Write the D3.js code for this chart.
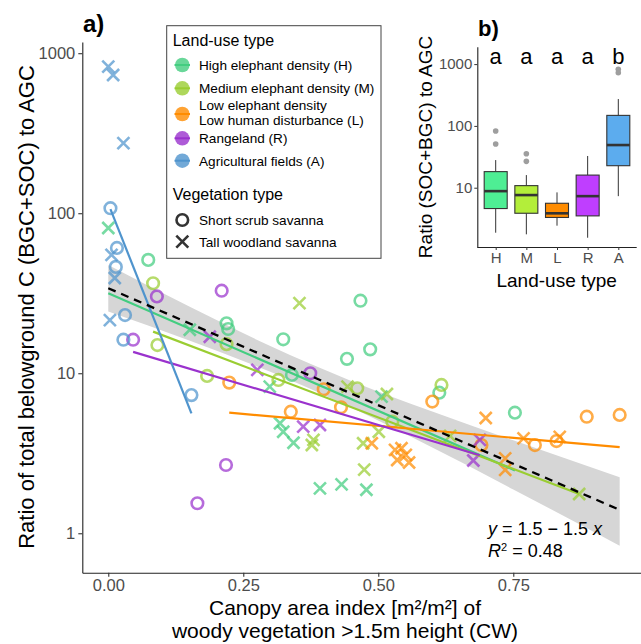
<!DOCTYPE html>
<html lang="en">
<head>
<meta charset="UTF-8">
<title>Belowground to aboveground carbon ratio</title>
<script src="https://cdn.jsdelivr.net/npm/d3@7"></script>
<style>
  body { margin: 0; background: #fff; }
  text { font-family: "Liberation Sans", Arial, sans-serif; }
</style>
</head>
<body>
<div id="container"></div>
<script>
// ---- data ----
// each point: [canopy area index CW, ratio, vegetation type (S = short scrub, T = tall woodland)]
var pointsH = [[0.00, 80.9, "T"], [0.074, 51.1, "S"], [0.151, 18.7, "T"], [0.219, 20.5, "S"], [0.222, 18.9, "S"],
  [0.324, 16.3, "S"], [0.467, 28.4, "S"], [0.442, 12.3, "S"], [0.485, 14.1, "S"], [0.299, 8.25, "T"],
  [0.340, 9.76, "S"], [0.318, 4.87, "T"], [0.324, 4.31, "T"], [0.343, 3.68, "T"], [0.392, 1.91, "T"],
  [0.432, 2.02, "T"], [0.478, 1.87, "T"], [0.506, 7.14, "T"], [0.613, 7.56, "S"], [0.753, 5.67, "S"]];
var pointsM = [[0.083, 36.5, "S"], [0.354, 27.4, "T"], [0.091, 15.0, "S"], [0.219, 15.2, "S"], [0.183, 9.62, "S"],
  [0.315, 9.08, "S"], [0.380, 3.83, "T"], [0.377, 3.56, "T"], [0.461, 8.06, "S"], [0.443, 8.25, "T"],
  [0.516, 7.42, "T"], [0.472, 3.65, "T"], [0.474, 2.50, "T"], [0.501, 4.31, "T"], [0.526, 4.98, "S"],
  [0.617, 8.45, "S"], [0.633, 4.06, "T"], [0.872, 1.76, "T"]];
var pointsL = [[0.224, 8.74, "S"], [0.338, 5.75, "S"], [0.399, 7.94, "S"], [0.431, 6.13, "S"], [0.488, 3.65, "T"],
  [0.531, 3.32, "T"], [0.543, 3.40, "T"], [0.551, 3.09, "T"], [0.535, 2.87, "T"], [0.557, 2.77, "T"],
  [0.600, 6.65, "S"], [0.699, 5.25, "T"], [0.691, 3.56, "S"], [0.735, 2.94, "T"], [0.735, 2.49, "T"],
  [0.769, 3.92, "T"], [0.790, 3.56, "S"], [0.836, 4.00, "T"], [0.830, 3.77, "S"], [0.886, 5.35, "S"],
  [0.947, 5.49, "S"]];
var pointsR = [[0.046, 16.2, "S"], [0.090, 30.2, "S"], [0.210, 32.8, "S"], [0.188, 16.9, "T"], [0.276, 10.5, "T"],
  [0.374, 10.0, "S"], [0.361, 4.64, "T"], [0.392, 4.75, "T"], [0.218, 2.67, "S"], [0.165, 1.54, "S"],
  [0.688, 3.83, "T"], [0.676, 2.85, "T"]];
var pointsA = [[0.000, 824, "T"], [0.009, 731, "T"], [0.028, 274, "T"], [0.004, 107.5, "S"], [0.016, 60.7, "S"],
  [0.006, 54.9, "T"], [0.014, 46.2, "S"], [0.012, 39.4, "T"], [0.003, 21.5, "T"], [0.031, 23.1, "S"],
  [0.028, 16.2, "S"], [0.154, 7.3, "S"]];

// group fit lines: [x start, y start, x end, y end]
var fitH = [0.000, 31.6, 0.753, 2.47];
var fitM = [0.083, 18.2, 0.872, 1.76];
var fitL = [0.224, 5.67, 0.947, 3.45];
var fitR = [0.046, 13.6, 0.688, 3.07];
var fitA = [0.004, 106, 0.154, 5.62];
var fitAll = [0.000, 34.0, 0.947, 1.40];

// confidence band of the overall fit
var bandX = [0, 0.15, 0.30, 0.45, 0.60, 0.75, 0.947];
var bandLo = [24.3, 16.0, 10.2, 6.10, 3.43, 1.88, 0.835];
var bandHi = [47.5, 26.1, 14.8, 8.96, 5.76, 3.81, 2.24];

// inset boxplot stats
var landUse = ["H", "M", "L", "R", "A"];
var boxLow = [1.87, 1.76, 2.43, 1.55, 7.3];
var boxQ1 = [4.6, 3.86, 3.3, 3.5, 22.7];
var boxMed = [8.8, 7.6, 3.85, 7.3, 49];
var boxQ3 = [18.2, 10.8, 5.6, 16, 148];
var boxHigh = [28, 16, 8.4, 32.6, 272];
var boxOut = [[51, 82.6], [26.7, 35.5], [], [], [724, 824]];
var sigLetters = ["a", "a", "a", "a", "b"];

var landUseLabels = ["High elephant density (H)", "Medium elephant density (M)",
  ["Low elephant density", "Low human disturbance (L)"], "Rangeland (R)", "Agricultural fields (A)"];

// colours
var pointColor = {H: "#43CD80", M: "#9ACD32", L: "#FF8C00", R: "#9A32CD", A: "#4F94CD"};
var boxColor = {H: "#4EEE94", M: "#B3EE3A", L: "#FF8C00", R: "#BF3EFF", A: "#5CACEE"};

var groups = [
  {key: "H", pts: pointsH, fit: fitH},
  {key: "M", pts: pointsM, fit: fitM},
  {key: "L", pts: pointsL, fit: fitL},
  {key: "R", pts: pointsR, fit: fitR},
  {key: "A", pts: pointsA, fit: fitA}
];

var svg = d3.select("#container").append("svg")
  .attr("width", 641)
  .attr("height", 644);

// ---- main panel a) ----
var x = d3.scaleLinear().domain([-0.0481, 0.9865]).range([82.3, 641]);
var y = d3.scaleLog().domain([0.567, 1175]).range([572.7, 42]);

// confidence band
var bandData = bandX.map((d, i) => ({x: d, lo: bandLo[i], hi: bandHi[i]}));
svg.append("path")
  .datum(bandData)
  .attr("fill", "#d6d6d6")
  .attr("d", d3.area().x(d => x(d.x)).y0(d => y(d.lo)).y1(d => y(d.hi)).curve(d3.curveMonotoneX));

// points
var xMark = "M-6,-6L6,6M-6,6L6,-6";
groups.forEach(function (g) {
  var gg = svg.append("g");
  gg.selectAll("circle")
    .data(g.pts.filter(d => d[2] == "S"))
    .enter().append("circle")
    .attr("cx", d => x(d[0]))
    .attr("cy", d => y(d[1]))
    .attr("r", 5.8)
    .attr("fill", "none")
    .attr("stroke", pointColor[g.key])
    .attr("stroke-width", 2.6)
    .attr("stroke-opacity", 0.72);
  gg.selectAll("path")
    .data(g.pts.filter(d => d[2] == "T"))
    .enter().append("path")
    .attr("transform", d => "translate(" + x(d[0]) + "," + y(d[1]) + ")")
    .attr("d", xMark)
    .attr("fill", "none")
    .attr("stroke", pointColor[g.key])
    .attr("stroke-width", 2.6)
    .attr("stroke-opacity", 0.72);
});

// group fit lines
groups.forEach(function (g) {
  svg.append("line")
    .attr("x1", x(g.fit[0])).attr("y1", y(g.fit[1]))
    .attr("x2", x(g.fit[2])).attr("y2", y(g.fit[3]))
    .attr("stroke", pointColor[g.key])
    .attr("stroke-width", 2.2);
});

// overall fit
svg.append("line")
  .attr("x1", x(fitAll[0])).attr("y1", y(fitAll[1]))
  .attr("x2", x(fitAll[2])).attr("y2", y(fitAll[3]))
  .attr("stroke", "black")
  .attr("stroke-width", 2.3)
  .attr("stroke-dasharray", "8,6");

// axes
var xAxis = svg.append("g")
  .attr("transform", "translate(0,572.7)")
  .call(d3.axisBottom(x).tickValues([0, 0.25, 0.5, 0.75]).tickFormat(d3.format(".2f")).tickSize(4).tickSizeOuter(0).tickPadding(3));
var yAxis = svg.append("g")
  .attr("transform", "translate(82.3,0)")
  .call(d3.axisLeft(y).tickValues([1, 10, 100, 1000]).tickFormat(d3.format("d")).tickSize(4).tickSizeOuter(0).tickPadding(3));
[xAxis, yAxis].forEach(function (a) {
  a.select(".domain").attr("stroke", "#222").attr("stroke-width", 1.1);
  a.selectAll(".tick line").attr("stroke", "#333").attr("stroke-width", 1.1);
  a.selectAll(".tick text").attr("fill", "#4d4d4d").style("font-size", "16.5px")
    .style("font-family", "'Liberation Sans', Arial, sans-serif");
});

svg.append("text")
  .attr("x", 345).attr("y", 615)
  .style("text-anchor", "middle").style("font-size", "21px")
  .text("Canopy area index [m²/m²] of");
svg.append("text")
  .attr("x", 345).attr("y", 638)
  .style("text-anchor", "middle").style("font-size", "21px")
  .text("woody vegetation >1.5m height (CW)");

svg.append("text")
  .attr("transform", "translate(34,307) rotate(-90)")
  .style("text-anchor", "middle").style("font-size", "22px")
  .text("Ratio of total belowground C (BGC+SOC) to AGC");

svg.append("text")
  .attr("x", 83).attr("y", 32)
  .style("font-size", "24px").style("font-weight", "bold")
  .text("a)");

// equation
var eq1 = svg.append("text").attr("x", 488).attr("y", 535).style("font-size", "18px");
eq1.append("tspan").style("font-style", "italic").text("y");
eq1.append("tspan").text(" = 1.5 \u2212 1.5 ");
eq1.append("tspan").style("font-style", "italic").text("x");
var eq2 = svg.append("text").attr("x", 488).attr("y", 557).style("font-size", "18px");
eq2.append("tspan").style("font-style", "italic").text("R");
eq2.append("tspan").attr("dy", -6).style("font-size", "11px").text("2");
eq2.append("tspan").attr("dy", 6).text(" = 0.48");

// legend
var legend = svg.append("g");
legend.append("rect")
  .attr("x", 166.7).attr("y", 25.7).attr("width", 214.3).attr("height", 232.6)
  .attr("fill", "white").attr("stroke", "#444").attr("stroke-width", 1);
legend.append("text").attr("x", 172.7).attr("y", 46).style("font-size", "16px").text("Land-use type");
var keyY = [65, 88.3, 114, 138.3, 160.7];
var labY = [70, 92.7, 110, 142.7, 165.7];
landUse.forEach(function (k, i) {
  legend.append("circle")
    .attr("cx", 182.3).attr("cy", keyY[i]).attr("r", 7.3)
    .attr("fill", pointColor[k]).attr("fill-opacity", 0.8);
  legend.append("line")
    .attr("x1", 174.5).attr("x2", 190).attr("y1", keyY[i]).attr("y2", keyY[i])
    .attr("stroke", pointColor[k]).attr("stroke-width", 2);
  var lab = landUseLabels[i];
  if (Array.isArray(lab)) {
    lab.forEach(function (t, j) {
      legend.append("text").attr("x", 199).attr("y", labY[i] + j * 14.5).style("font-size", "13.6px").text(t);
    });
  } else {
    legend.append("text").attr("x", 199).attr("y", labY[i]).style("font-size", "13.6px").text(lab);
  }
});
legend.append("text").attr("x", 172.7).attr("y", 200).style("font-size", "16px").text("Vegetation type");
legend.append("circle")
  .attr("cx", 182.3).attr("cy", 220).attr("r", 5.8)
  .attr("fill", "none").attr("stroke", "#333").attr("stroke-width", 2.6);
legend.append("text").attr("x", 199).attr("y", 224.5).style("font-size", "13.6px").text("Short scrub savanna");
legend.append("path")
  .attr("transform", "translate(182.3,241.7)")
  .attr("d", xMark).attr("fill", "none").attr("stroke", "#333").attr("stroke-width", 2.6);
legend.append("text").attr("x", 199).attr("y", 246.5).style("font-size", "13.6px").text("Tall woodland savanna");

// ---- inset panel b) ----
var xb = d3.scalePoint().domain(landUse).range([477.3, 636.7]).padding(0.6);
var yb = d3.scaleLog().domain([1.098, 1912]).range([247, 46.7]);
var boxW = 23;

var boxes = svg.append("g");
landUse.forEach(function (k, i) {
  var cx = xb(k);
  boxes.append("line")
    .attr("x1", cx).attr("x2", cx).attr("y1", yb(boxLow[i])).attr("y2", yb(boxQ1[i]))
    .attr("stroke", "#333").attr("stroke-width", 1);
  boxes.append("line")
    .attr("x1", cx).attr("x2", cx).attr("y1", yb(boxQ3[i])).attr("y2", yb(boxHigh[i]))
    .attr("stroke", "#333").attr("stroke-width", 1);
  boxes.append("rect")
    .attr("x", cx - boxW / 2).attr("width", boxW)
    .attr("y", yb(boxQ3[i])).attr("height", yb(boxQ1[i]) - yb(boxQ3[i]))
    .attr("fill", boxColor[k]).attr("stroke", "#333").attr("stroke-width", 1.1);
  boxes.append("line")
    .attr("x1", cx - boxW / 2).attr("x2", cx + boxW / 2)
    .attr("y1", yb(boxMed[i])).attr("y2", yb(boxMed[i]))
    .attr("stroke", "#333").attr("stroke-width", 2.6);
  boxOut[i].forEach(function (o) {
    boxes.append("circle").attr("cx", cx).attr("cy", yb(o)).attr("r", 2.8).attr("fill", "#9e9e9e");
  });
  boxes.append("text")
    .attr("x", cx).attr("y", 64)
    .style("text-anchor", "middle").style("font-size", "22px")
    .text(sigLetters[i]);
});

var xbAxis = svg.append("g")
  .attr("transform", "translate(0,247)")
  .call(d3.axisBottom(xb).tickSize(3).tickPadding(2));
var ybAxis = svg.append("g")
  .attr("transform", "translate(477.3,0)")
  .call(d3.axisLeft(yb).tickValues([10, 100, 1000]).tickFormat(d3.format("d")).tickSize(3).tickSizeOuter(0).tickPadding(2));
xbAxis.select(".domain").attr("d", "M477.3,0.5H636.7");
[xbAxis, ybAxis].forEach(function (a) {
  a.select(".domain").attr("stroke", "#222").attr("stroke-width", 1.1);
  a.selectAll(".tick line").attr("stroke", "#333");
  a.selectAll(".tick text").attr("fill", "#4d4d4d").style("font-size", "15px")
    .style("font-family", "'Liberation Sans', Arial, sans-serif");
});

svg.append("text")
  .attr("x", 556.7).attr("y", 287)
  .style("text-anchor", "middle").style("font-size", "19px")
  .text("Land-use type");
svg.append("text")
  .attr("transform", "translate(432,147) rotate(-90)")
  .style("text-anchor", "middle").style("font-size", "19px")
  .text("Ratio (SOC+BGC) to AGC");
svg.append("text")
  .attr("x", 478).attr("y", 36)
  .style("font-size", "22px").style("font-weight", "bold")
  .text("b)");
</script>
</body>
</html>
